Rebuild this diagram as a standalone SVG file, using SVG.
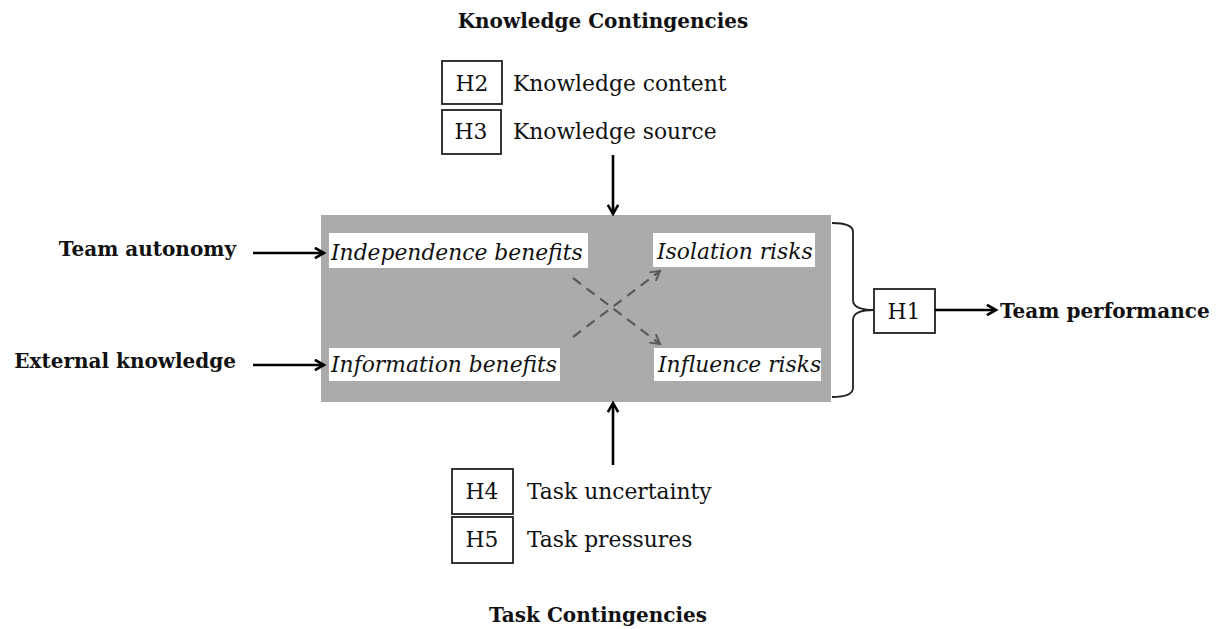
<svg xmlns="http://www.w3.org/2000/svg" width="1218" height="629" viewBox="0 0 1218 629">
<defs>
<style>
text{font-family:"DejaVu Serif","Liberation Serif",serif;fill:#111;}
.b{font-weight:bold;font-size:20px;}
.r{font-size:21.8px;}
.i{font-style:italic;font-size:21.8px;}
.box{fill:#fff;stroke:#222;stroke-width:1.8;}
.lab{fill:#fff;}
.arr{stroke:#000;stroke-width:2.6;fill:none;}
.dash{stroke:#5a5a5a;stroke-width:2.2;stroke-dasharray:10,7;fill:none;}
</style>
<marker id="ah" viewBox="0 0 10 10" refX="8" refY="5" markerWidth="5" markerHeight="5" orient="auto" markerUnits="strokeWidth">
<path d="M1,1 L8,5 L1,9" fill="none" stroke="#000" stroke-width="2"/>
</marker>
<marker id="ahg" viewBox="0 0 10 10" refX="8" refY="5" markerWidth="6" markerHeight="6" orient="auto" markerUnits="strokeWidth">
<path d="M1,1 L8,5 L1,9" fill="none" stroke="#5a5a5a" stroke-width="1.5"/>
</marker>
</defs>
<rect width="1218" height="629" fill="#fff"/>

<g id="core">
<rect x="321" y="215" width="510" height="187" fill="#ababab"/>
</g>
<g id="independence">
<rect class="lab" x="329" y="233" width="259" height="35"/>
<text class="i" x="331" y="260">Independence benefits</text>
</g>
<g id="isolation">
<rect class="lab" x="653" y="233" width="162" height="34"/>
<text class="i" x="657" y="259">Isolation risks</text>
</g>
<g id="information">
<rect class="lab" x="329" y="348" width="231" height="33"/>
<text class="i" x="331" y="372">Information benefits</text>
</g>
<g id="influence">
<rect class="lab" x="654" y="348" width="167" height="33"/>
<text class="i" x="658" y="372">Influence risks</text>
</g>

<g id="knowledge-title"><text class="b" x="603" y="28" text-anchor="middle">Knowledge Contingencies</text></g>
<g id="h2">
<rect class="box" x="442" y="61" width="60" height="43"/>
<text class="r" x="472" y="91" text-anchor="middle">H2</text>
<text class="r" x="513" y="91">Knowledge content</text>
</g>
<g id="h3">
<rect class="box" x="442" y="110" width="59" height="44"/>
<text class="r" x="471" y="139" text-anchor="middle">H3</text>
<text class="r" x="513" y="139">Knowledge source</text>
</g>

<g id="h4">
<rect class="box" x="452" y="469" width="61" height="45"/>
<text class="r" x="482" y="499" text-anchor="middle">H4</text>
<text class="r" x="527" y="499">Task uncertainty</text>
</g>
<g id="h5">
<rect class="box" x="452" y="517" width="61" height="46"/>
<text class="r" x="482" y="547" text-anchor="middle">H5</text>
<text class="r" x="527" y="547">Task pressures</text>
</g>
<g id="task-title"><text class="b" x="598" y="622" text-anchor="middle">Task Contingencies</text></g>

<g id="team-autonomy"><text class="b" x="236" y="256" text-anchor="end">Team autonomy</text></g>
<g id="external-knowledge"><text class="b" x="236" y="368" text-anchor="end">External knowledge</text></g>

<g id="h1">
<rect class="box" x="874" y="289" width="61" height="44"/>
<text class="r" x="904" y="319" text-anchor="middle">H1</text>
</g>
<g id="team-performance"><text class="b" x="1000" y="318">Team performance</text></g>

<g id="connectors">
<line class="arr" x1="613" y1="155" x2="613" y2="214" marker-end="url(#ah)"/>
<line class="arr" x1="613" y1="465" x2="613" y2="403" marker-end="url(#ah)"/>
<line class="arr" x1="253" y1="253" x2="324" y2="253" marker-end="url(#ah)"/>
<line class="arr" x1="253" y1="365" x2="324" y2="365" marker-end="url(#ah)"/>
<line class="arr" x1="935" y1="310" x2="996" y2="310" marker-end="url(#ah)"/>
<line class="dash" x1="573" y1="278" x2="660" y2="344" marker-end="url(#ahg)"/>
<line class="dash" x1="573" y1="337" x2="660" y2="271" marker-end="url(#ahg)"/>
<path d="M832,223 Q853,223 853,232 L853,300 Q853,310 874,310 Q853,310 853,320 L853,388 Q853,397 832,397" fill="none" stroke="#222" stroke-width="1.8"/>
</g>
</svg>
